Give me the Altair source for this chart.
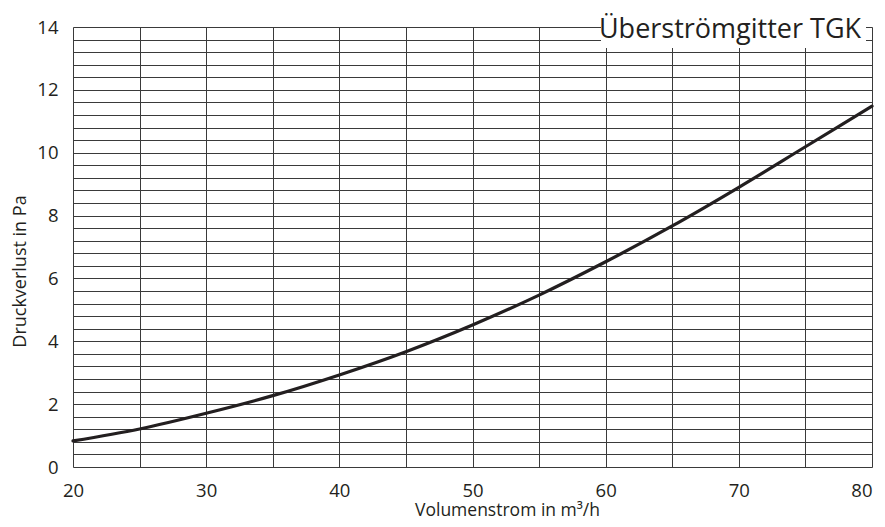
import altair as alt
import pandas as pd

# Data
volumenstrom = [20, 25, 30, 35, 40, 45, 50, 55, 60, 65, 70, 75, 80]
druckverlust = [0.83, 1.21, 1.71, 2.27, 2.93, 3.67, 4.52, 5.47, 6.53, 7.67, 8.90, 10.19, 11.48]

x_grid = list(range(20, 81, 5))
y_grid = [round(i * 0.4, 1) for i in range(0, 36)]

title_text = ["Überströmgitter TGK"]

FONT = "Open Sans"
INK = "#231f20"
GRID = "#3a3a3a"

df = pd.DataFrame({"x": volumenstrom, "y": druckverlust})

x_scale = alt.Scale(domain=[20, 80], nice=False, zero=False)
y_scale = alt.Scale(domain=[0, 14], nice=False)

line = alt.Chart(df).mark_line(
    color=INK, strokeWidth=3.2, interpolate="monotone", strokeCap="round"
).encode(
    x=alt.X("x:Q", scale=x_scale, axis=alt.Axis(
        values=x_grid,
        labelExpr="datum.value % 10 === 0 ? format(datum.value, 'd') : ''",
        labelFlush=False,
        labelAlign=alt.condition("datum.value === 80", alt.value("right"), alt.value("center")),
        title="Volumenstrom in m³/h",
        titleX=434, titleY=48, titleBaseline="alphabetic",
        ticks=False, domain=False,
        grid=True, gridColor=GRID, gridWidth=1, gridOpacity=1,
        labelPadding=14, labelFontSize=18.5, labelFont=FONT, labelColor=INK,
        labelOverlap=False,
        titleFont=FONT, titleFontSize=17.5, titleFontWeight="normal", titleColor=INK,
    )),
    y=alt.Y("y:Q", scale=y_scale, axis=alt.Axis(
        values=y_grid,
        labelExpr="datum.value % 2 === 0 ? format(datum.value, 'd') : ''",
        title="Druckverlust in Pa",
        titleX=-53, titleY=244, titleBaseline="middle", titleAngle=-90,
        ticks=False, domain=False,
        grid=True, gridColor=GRID, gridWidth=1, gridOpacity=1,
        labelPadding=15, labelFontSize=18.5, labelFont=FONT, labelColor=INK,
        labelOverlap=False,
        titleFont=FONT, titleFontSize=18, titleFontWeight="normal", titleColor=INK,
    )),
)

title_df = pd.DataFrame({"t": title_text})

title_box = alt.Chart(title_df).mark_rect(color="white").encode(
    x=alt.value(528), x2=alt.value(793), y=alt.value(-15), y2=alt.value(21)
)

title_mark = alt.Chart(title_df).mark_text(
    font=FONT, fontSize=27, color=INK, align="center", baseline="middle"
).encode(
    x=alt.value(657), y=alt.value(3), text="t:N"
)

chart = alt.layer(line, title_box, title_mark).properties(
    width=799, height=440,
    autosize=alt.AutoSizeParams(type="none"),
    padding={"left": 65, "top": 19, "right": 5, "bottom": 52},
).configure_view(
    stroke=INK, strokeWidth=1.6
).configure(background="white")

chart.save("out.html", embed_options={"renderer": "svg", "actions": False})
